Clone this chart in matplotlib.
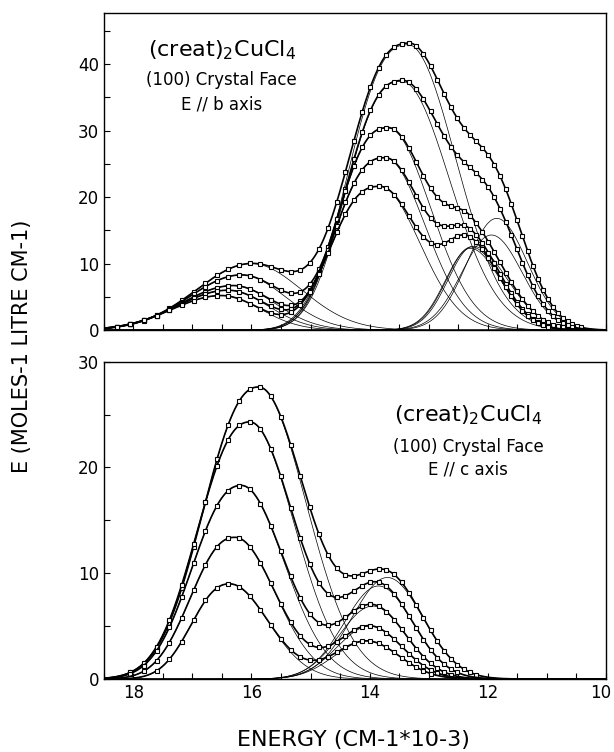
import numpy as np
import matplotlib.pyplot as plt
import matplotlib.transforms as mtransforms

# Band parameters, one entry per temperature (5 spectra)
# centre in cm-1*10-3, height in E units, widths on high- and low-energy side,
# shape exponent of the high-energy side (2 = plain gaussian)

# E // b axis (upper panel)
b_band1_centre = [16.00, 16.17, 16.31, 16.40, 16.51]
b_band1_height = [10.0, 8.3, 6.7, 6.0, 5.2]
b_band1_w_hi = [0.93, 0.88, 0.87, 0.85, 0.83]
b_band1_w_lo = [0.85, 0.74, 0.70, 0.68, 0.66]
b_band1_p_hi = [2, 2, 2, 2, 2]

b_band2_centre = [13.35, 13.46, 13.69, 13.74, 13.83]
b_band2_height = [42.9, 37.4, 30.4, 25.9, 21.6]
b_band2_w_hi = [0.95, 0.89, 0.80, 0.81, 0.80]
b_band2_w_lo = [0.80, 0.81, 0.72, 0.68, 0.68]
b_band2_p_hi = [2.6, 2.6, 2.6, 2.6, 2.6]

b_band3_centre = [11.85, 11.94, 12.25, 12.28, 12.30]
b_band3_height = [16.8, 14.3, 12.6, 12.5, 12.3]
b_band3_w_hi = [0.50, 0.50, 0.42, 0.42, 0.42]
b_band3_w_lo = [0.52, 0.52, 0.58, 0.52, 0.52]
b_band3_p_hi = [2, 2, 2, 2, 2]

# E // c axis (lower panel)
c_band1_centre = [15.88, 16.03, 16.17, 16.28, 16.37]
c_band1_height = [27.6, 24.3, 18.3, 13.4, 9.0]
c_band1_w_hi = [0.90, 0.85, 0.80, 0.72, 0.62]
c_band1_w_lo = [0.80, 0.75, 0.72, 0.68, 0.65]
c_band1_p_hi = [2.3, 2.3, 2.3, 2.3, 2.3]

c_band2_centre = [13.70, 13.85, 13.95, 14.00, 14.05]
c_band2_height = [9.6, 8.8, 6.9, 5.0, 3.6]
c_band2_w = [0.60, 0.58, 0.56, 0.55, 0.55]
c_band2_p_hi = [2, 2, 2, 2, 2]

# measured points were taken on an even wavelength grid (nm)
wavelength_nm = np.arange(540, 1001, 7)

label_font = ['Liberation Sans Narrow', 'DejaVu Sans']


def band(e, centre, height, w_hi, w_lo, p_hi):
    d = e - centre
    hi = np.abs(d / w_hi) ** p_hi
    lo = (d / w_lo) ** 2
    return height * np.exp(-0.5 * np.where(d > 0, hi, lo))


def draw_panel(ax, bands, ymax, ytop_label):
    e = np.linspace(18.5, 10, 900)
    e_pts = 1e4 / wavelength_nm
    for k in range(5):
        comps = [band(e, *[p[k] for p in b]) for b in bands]
        comps_pts = [band(e_pts, *[p[k] for p in b]) for b in bands]
        for c in comps:
            ax.plot(e, c, color='black', lw=0.5)
        total = np.sum(comps, axis=0)
        total_pts = np.sum(comps_pts, axis=0)
        ax.plot(e, total, color='black', lw=1.2)
        keep = total_pts > 0.4
        ax.plot(e_pts[keep], total_pts[keep], 's', ms=3.0, mfc='white',
                mec='black', mew=0.8)
    ax.set_xlim(18.5, 10)
    ax.set_ylim(0, ymax)
    ax.set_xticks([18, 16, 14, 12, 10])
    ax.set_xticks(np.arange(10, 18.6, 0.5), minor=True)
    ax.set_yticks(np.arange(0, ytop_label + 1, 10))
    ax.set_yticks(np.arange(0, ymax, 5), minor=True)
    ax.tick_params(which='both', direction='in', length=4, width=0.8,
                   labelsize=12)
    for s in ax.spines.values():
        s.set_linewidth(1.0)


fig = plt.figure(figsize=(6.14, 7.52), dpi=100)
ax1 = fig.add_axes([0.169, 0.561, 0.818, 0.422])
ax2 = fig.add_axes([0.169, 0.097, 0.818, 0.422])

draw_panel(ax1,
           [(b_band1_centre, b_band1_height, b_band1_w_hi, b_band1_w_lo, b_band1_p_hi),
            (b_band2_centre, b_band2_height, b_band2_w_hi, b_band2_w_lo, b_band2_p_hi),
            (b_band3_centre, b_band3_height, b_band3_w_hi, b_band3_w_lo, b_band3_p_hi)],
           47.7, 40)
draw_panel(ax2,
           [(c_band1_centre, c_band1_height, c_band1_w_hi, c_band1_w_lo, c_band1_p_hi),
            (c_band2_centre, c_band2_height, c_band2_w, c_band2_w, c_band2_p_hi)],
           30, 30)
ax1.tick_params(labelbottom=False)

# keep the "10" at the right edge inside the figure
fig.canvas.draw()
last = ax2.get_xticklabels()[-1]
last.set_transform(last.get_transform() +
                   mtransforms.ScaledTranslation(-5 / 100, 0, fig.dpi_scale_trans))

ax1.text(0.235, 0.883, r'(creat)$_2$CuCl$_4$', transform=ax1.transAxes,
         ha='center', va='center', fontsize=16)
ax1.text(0.235, 0.789, '(100) Crystal Face', transform=ax1.transAxes,
         ha='center', va='center', fontsize=12)
ax1.text(0.235, 0.71, 'E // b axis', transform=ax1.transAxes,
         ha='center', va='center', fontsize=12)

ax2.text(0.725, 0.833, r'(creat)$_2$CuCl$_4$', transform=ax2.transAxes,
         ha='center', va='center', fontsize=16)
ax2.text(0.725, 0.732, '(100) Crystal Face', transform=ax2.transAxes,
         ha='center', va='center', fontsize=12)
ax2.text(0.725, 0.659, 'E // c axis', transform=ax2.transAxes,
         ha='center', va='center', fontsize=12)

fig.text(0.036, 0.54, 'E (MOLES-1 LITRE CM-1)', rotation=90, ha='center',
         va='center', fontsize=15, family=label_font)
fig.text(0.575, 0.016, 'ENERGY (CM-1*10-3)', ha='center', va='center',
         fontsize=16, family=label_font)

fig.savefig('out.png', dpi=100)
